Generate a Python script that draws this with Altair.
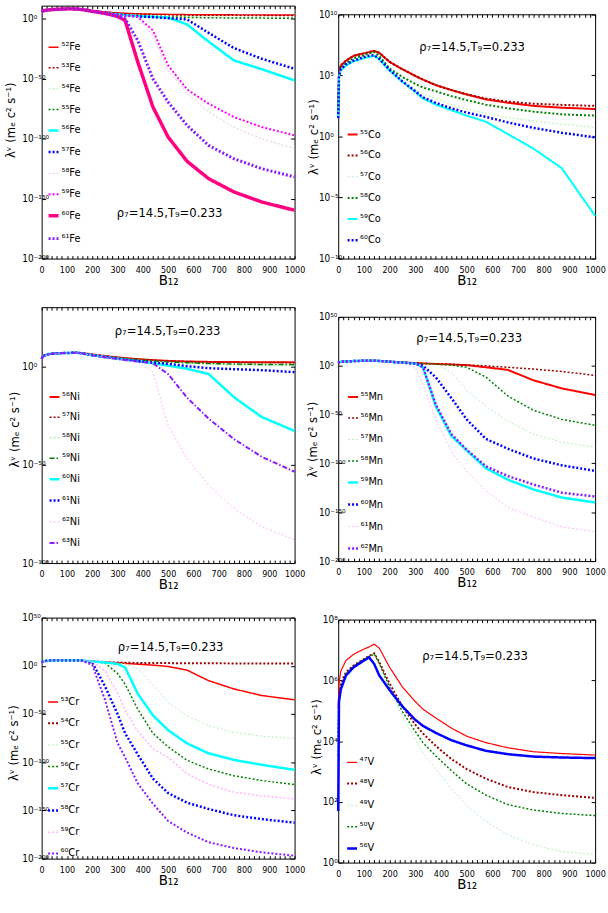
import altair as alt
import pandas as pd

# ---------------- data (log10 of lambda^nu) ----------------
B12 = [0, 3, 10, 30, 60, 100, 120, 140, 160, 200, 250, 300, 330, 380, 440, 500, 575, 660, 760, 870, 1000]

FE_NAMES = ["52Fe", "53Fe", "54Fe", "55Fe", "56Fe", "57Fe", "58Fe", "59Fe", "60Fe", "61Fe"]
FE_52 = [6.1, 6.4, 6.9, 7.5, 8.0, 8.3, 8.3, 8.3, 7.9, 6.9, 5.8, 4.9, 4.6, 4.2, 3.9, 3.7, 3.5, 3.4, 3.3, 3.3, 3.2]
FE_53 = [6.1, 6.4, 6.9, 7.5, 8.0, 8.3, 8.3, 8.3, 7.9, 6.8, 5.6, 4.6, 4.3, 3.8, 3.5, 3.3, 3.1, 3.0, 2.9, 2.8, 2.7]
FE_54 = [6.0, 6.3, 6.8, 7.4, 7.9, 8.2, 8.2, 8.2, 7.8, 6.6, 5.3, 4.1, 3.6, 3.0, 2.5, 2.1, 1.8, 1.5, 1.3, 1.2, 1.0]
FE_55 = [6.0, 6.3, 6.8, 7.4, 7.9, 8.2, 8.2, 8.2, 7.8, 6.6, 5.2, 3.9, 3.4, 2.7, 2.1, 1.6, 1.2, 0.9, 0.7, 0.6, 0.5]
FE_56 = [6.1, 6.4, 6.9, 7.5, 8.0, 8.3, 8.3, 8.2, 7.8, 6.5, 5.0, 3.5, 3.0, 2.2, 1.7, 1.1, -4.7, -19.0, -34.7, -42.0, -51.4]
FE_57 = [6.1, 6.4, 6.9, 7.5, 8.0, 8.3, 8.3, 8.2, 7.8, 6.5, 5.0, 3.4, 2.8, 2.0, 1.4, 0.5, -0.5, -11.7, -24.4, -33.3, -41.7]
FE_58 = [6.0, 6.3, 6.8, 7.4, 7.9, 8.2, 8.2, 8.2, 7.7, 6.4, 4.8, 3.2, 2.6, 1.6, -13.9, -43.0, -62.5, -77.8, -90.3, -100.0, -108.3]
FE_59 = [6.0, 6.3, 6.8, 7.4, 7.9, 8.2, 8.2, 8.2, 7.7, 6.4, 4.8, 3.2, 2.6, 1.7, -9.7, -38.9, -58.9, -70.8, -81.9, -90.3, -97.2]
FE_60 = [6.1, 6.4, 6.9, 7.5, 8.0, 8.3, 8.3, 8.2, 7.7, 6.3, 4.6, 2.0, -1.4, -36.0, -73.6, -98.6, -118.9, -133.3, -144.4, -152.8, -159.7]
FE_61 = [6.1, 6.4, 6.9, 7.5, 8.0, 8.3, 8.3, 8.2, 7.7, 6.3, 4.6, 2.2, 0.0, -18.0, -50.0, -69.4, -88.9, -105.6, -116.7, -125.0, -131.9]

CO_NAMES = ["55Co", "56Co", "57Co", "58Co", "59Co", "60Co"]
CO_55 = [2.0, 5.2, 5.8, 6.2, 6.6, 6.8, 6.9, 7.0, 6.84, 6.1, 5.5, 4.95, 4.65, 4.2, 3.8, 3.43, 3.03, 2.76, 2.5, 2.35, 2.24]
CO_56 = [2.0, 5.2, 5.8, 6.2, 6.6, 6.8, 6.9, 7.0, 6.84, 6.1, 5.5, 4.95, 4.65, 4.2, 3.8, 3.45, 3.1, 2.85, 2.68, 2.58, 2.5]
CO_57 = [1.8, 5.0, 5.6, 6.0, 6.4, 6.65, 6.75, 6.85, 6.5, 5.3, 4.45, 3.85, 3.5, 3.1, 2.6, 2.25, 1.9, 1.55, 1.27, 1.0, 0.73]
CO_58 = [1.8, 5.0, 5.6, 6.0, 6.4, 6.65, 6.8, 6.9, 6.6, 5.55, 4.86, 4.3, 4.0, 3.7, 3.3, 2.97, 2.6, 2.3, 2.03, 1.81, 1.7]
CO_59 = [1.5, 4.9, 5.4, 5.8, 6.15, 6.4, 6.5, 6.6, 6.3, 5.4, 4.46, 3.65, 3.1, 2.6, 2.15, 1.7, 1.2, 0.2, -1.0, -2.6, -6.5]
CO_60 = [1.5, 4.9, 5.5, 5.9, 6.2, 6.5, 6.6, 6.65, 6.35, 5.45, 4.5, 3.7, 3.2, 2.75, 2.3, 1.95, 1.6, 1.15, 0.7, 0.3, -0.08]

NI_NAMES = ["56Ni", "57Ni", "58Ni", "59Ni", "60Ni", "61Ni", "62Ni", "63Ni"]
NI_56 = [3.7, 4.5, 5.4, 6.2, 6.6, 6.7, 6.8, 6.9, 6.7, 6.0, 5.2, 4.5, 4.1, 3.6, 3.1, 2.7, 2.4, 2.2, 2.1, 2.0, 2.0]
NI_57 = [3.7, 4.5, 5.4, 6.2, 6.6, 6.7, 6.8, 6.9, 6.7, 6.0, 5.2, 4.5, 4.1, 3.6, 3.1, 2.6, 2.3, 2.1, 2.0, 1.9, 1.8]
NI_58 = [3.7, 4.5, 5.4, 6.2, 6.6, 6.7, 6.8, 6.9, 6.6, 5.8, 5.0, 4.2, 3.8, 3.1, 2.4, 1.9, 1.4, 1.0, 0.7, 0.5, 0.3]
NI_59 = [3.7, 4.5, 5.4, 6.2, 6.6, 6.7, 6.8, 6.9, 6.6, 5.8, 5.0, 4.3, 3.9, 3.3, 2.7, 2.2, 1.8, 1.4, 1.1, 0.9, 0.8]
NI_60 = [3.7, 4.5, 5.4, 6.2, 6.6, 6.7, 6.8, 6.8, 6.5, 5.6, 4.7, 3.8, 3.3, 2.5, 1.5, 0.3, -1.3, -3.9, -15.7, -25.8, -32.9]
NI_61 = [3.7, 4.5, 5.4, 6.2, 6.6, 6.7, 6.8, 6.8, 6.5, 5.6, 4.7, 3.8, 3.3, 2.6, 1.9, 1.2, 0.0, -1.0, -1.5, -2.0, -3.0]
NI_62 = [3.7, 4.5, 5.4, 6.2, 6.6, 6.7, 6.8, 6.8, 6.5, 5.5, 4.5, 3.5, 2.9, 1.8, -3.0, -30.0, -46.9, -60.4, -72.2, -81.5, -88.2]
NI_63 = [3.7, 4.5, 5.4, 6.2, 6.6, 6.7, 6.8, 6.8, 6.5, 5.5, 4.6, 3.7, 3.2, 2.4, 1.5, -4.0, -16.0, -26.6, -37.0, -46.0, -53.6]

MN_NAMES = ["55Mn", "56Mn", "57Mn", "58Mn", "59Mn", "60Mn", "61Mn", "62Mn"]
MN_55 = [2.7, 3.3, 4.0, 4.3, 4.7, 5.0, 5.0, 5.0, 4.8, 4.2, 3.4, 2.7, 2.3, 1.7, 1.2, 0.5, -1.7, -4.3, -15.0, -23.3, -30.0]
MN_56 = [2.7, 3.3, 4.0, 4.3, 4.7, 5.0, 5.0, 5.0, 4.8, 4.2, 3.4, 2.7, 2.3, 1.8, 1.3, 0.7, -0.2, -1.7, -3.5, -6.0, -10.0]
MN_57 = [2.7, 3.3, 4.0, 4.3, 4.7, 5.0, 5.0, 5.0, 4.8, 4.1, 3.2, 2.4, 2.0, 1.2, -6.7, -25.0, -41.7, -56.7, -70.0, -78.3, -83.3]
MN_58 = [2.7, 3.3, 4.0, 4.3, 4.7, 5.0, 5.0, 5.0, 4.8, 4.1, 3.2, 2.4, 2.0, 1.5, 0.5, -1.7, -11.7, -31.0, -45.7, -55.0, -61.0]
MN_59 = [2.7, 3.3, 4.0, 4.3, 4.7, 5.0, 5.0, 5.0, 4.8, 4.0, 3.0, 2.2, -1.7, -41.7, -71.7, -86.7, -105.0, -116.7, -126.7, -135.0, -140.0]
MN_60 = [2.7, 3.3, 4.0, 4.3, 4.7, 5.0, 5.0, 5.0, 4.8, 4.0, 3.0, 2.2, 0.0, -12.0, -33.0, -55.0, -75.0, -85.0, -95.0, -102.0, -107.7]
MN_61 = [2.7, 3.3, 4.0, 4.3, 4.7, 5.0, 5.0, 5.0, 4.8, 3.8, 2.5, -1.7, -20.0, -55.0, -88.0, -108.0, -128.0, -145.0, -155.0, -165.0, -170.0]
MN_62 = [2.7, 3.3, 4.0, 4.3, 4.7, 5.0, 5.0, 5.0, 4.8, 4.0, 3.0, 2.2, -1.7, -40.0, -70.0, -86.0, -103.0, -113.0, -121.7, -130.0, -134.0]

CR_NAMES = ["53Cr", "54Cr", "55Cr", "56Cr", "57Cr", "58Cr", "59Cr", "60Cr"]
CR_53 = [3.4, 4.0, 4.8, 5.5, 5.8, 5.8, 5.8, 5.8, 5.5, 4.6, 3.8, 3.0, 2.5, 1.7, 0.7, -0.7, -4.5, -15.4, -24.0, -30.8, -35.3]
CR_54 = [3.4, 4.0, 4.8, 5.5, 5.8, 5.8, 5.8, 5.8, 5.5, 4.7, 4.0, 3.4, 3.2, 3.0, 2.9, 2.8, 2.7, 2.6, 2.5, 2.5, 2.4]
CR_55 = [3.4, 4.0, 4.8, 5.5, 5.8, 5.8, 5.8, 5.8, 5.5, 4.6, 3.7, 2.7, 2.0, -3.0, -20.0, -38.0, -52.0, -62.0, -69.0, -73.0, -75.3]
CR_56 = [3.4, 4.0, 4.8, 5.5, 5.8, 5.8, 5.8, 5.8, 5.5, 4.4, 3.0, -8.0, -19.0, -45.0, -70.0, -84.0, -98.0, -107.0, -114.0, -119.0, -123.3]
CR_57 = [3.4, 4.0, 4.8, 5.5, 5.8, 5.8, 5.8, 5.8, 5.5, 4.5, 3.5, 2.0, -1.7, -29.0, -51.4, -66.8, -80.5, -90.8, -97.6, -102.7, -107.9]
CR_58 = [3.4, 4.0, 4.8, 5.5, 5.8, 5.8, 5.8, 5.8, 5.5, 3.5, -21.0, -50.0, -70.0, -92.0, -117.0, -132.0, -142.0, -148.5, -155.0, -159.0, -162.7]
CR_59 = [3.4, 4.0, 4.8, 5.5, 5.8, 5.8, 5.8, 5.8, 5.5, 4.2, -5.0, -28.0, -46.0, -68.0, -86.0, -95.0, -112.0, -123.0, -131.0, -135.0, -138.0]
CR_60 = [3.4, 4.0, 4.8, 5.5, 5.8, 5.8, 5.8, 5.8, 5.3, 1.0, -35.0, -80.0, -95.0, -122.0, -143.0, -161.0, -173.0, -183.0, -189.0, -193.5, -197.0]

V_NAMES = ["47V", "48V", "49V", "50V", "56V"]
V_47 = [5.1, 5.9, 6.3, 6.65, 6.86, 7.03, 7.1, 7.19, 7.06, 6.43, 5.78, 5.3, 5.05, 4.76, 4.43, 4.16, 3.95, 3.78, 3.65, 3.59, 3.54]
V_48 = [4.0, 5.5, 5.9, 6.27, 6.49, 6.7, 6.8, 6.89, 6.6, 5.89, 5.14, 4.54, 4.25, 3.84, 3.41, 3.08, 2.76, 2.49, 2.32, 2.22, 2.13]
V_49 = [3.5, 5.4, 5.8, 6.2, 6.45, 6.68, 6.76, 6.85, 6.5, 5.68, 4.81, 4.05, 3.6, 3.08, 2.43, 1.89, 1.35, 0.92, 0.59, 0.36, 0.27]
V_50 = [3.5, 5.4, 5.8, 6.22, 6.47, 6.69, 6.78, 6.87, 6.55, 5.78, 4.97, 4.32, 3.95, 3.51, 3.03, 2.59, 2.22, 1.91, 1.73, 1.62, 1.55]
V_56 = [1.7, 5.3, 5.7, 6.16, 6.43, 6.65, 6.76, 6.54, 6.16, 5.68, 5.14, 4.7, 4.5, 4.27, 4.03, 3.86, 3.68, 3.57, 3.49, 3.46, 3.44]

# tick exponents per panel
FE_YEXP = [0, -50, -100, -150, -200]
CO_YEXP = [10, 5, 0, -5, -10]
NI_YEXP = [0, -50, -100]
MN_YEXP = [50, 0, -50, -100, -150, -200]
CR_YEXP = [50, 0, -50, -100, -150, -200]
V_YEXP = [8, 6, 4, 2, 0]
X_TICKS = list(range(0, 1001, 20))

NOTE = "ρ₇=14.5,T₉=0.233"
XTITLE = "B₁₂"
YTITLE = "λᵛ (mₑ c² s⁻¹)"

# ---------------- styles ----------------
RED, BROWN, LGREEN, GREEN = "#ff0000", "#990000", "#b5f0b5", "#008000"
CYAN, BLUE, MAGENTA, CRIMSON = "#00ffff", "#0000ff", "#ff00ff", "#ff0080"
PURPLE, LPINK, LPINK2 = "#8a1aff", "#ffb5ff", "#e6c6d4"
SOLID, DOT, DASHDOT = [1, 0], [2, 2], [5, 2, 1.5, 2]

FE_STY = [(RED, SOLID, 1.5), (BROWN, DOT, 1.5), (LGREEN, DOT, 1.0), (GREEN, DOT, 1.5),
          (CYAN, SOLID, 2.5), (BLUE, DOT, 2.5), (LPINK2, DOT, 1.0), (MAGENTA, DOT, 2.0),
          (CRIMSON, SOLID, 3.5), (PURPLE, DOT, 3.0)]
CO_STY = [(RED, SOLID, 2.0), (BROWN, DOT, 2.0), (LGREEN, DOT, 1.0), (GREEN, DOT, 2.0),
          (CYAN, SOLID, 2.0), (BLUE, DOT, 2.5)]
NI_STY = [(RED, SOLID, 2.0), (BROWN, DOT, 1.5), (LGREEN, DOT, 1.5), (GREEN, DASHDOT, 1.5),
          (CYAN, SOLID, 2.5), (BLUE, DOT, 2.5), (LPINK, DOT, 1.0), (PURPLE, DASHDOT, 2.0)]
MN_STY = [(RED, SOLID, 2.0), (BROWN, DOT, 1.5), (LGREEN, DOT, 1.0), (GREEN, DOT, 1.5),
          (CYAN, SOLID, 2.5), (BLUE, DOT, 2.5), (LPINK, DOT, 1.0), (PURPLE, DOT, 2.5)]
CR_STY = [(RED, SOLID, 1.5), (BROWN, DOT, 2.0), (LGREEN, DOT, 1.0), (GREEN, DOT, 1.5),
          (CYAN, SOLID, 2.5), (BLUE, DOT, 2.5), (LPINK, DOT, 1.5), (PURPLE, DOT, 2.0)]
V_STY = [(RED, SOLID, 1.2), (BROWN, DOT, 2.0), (LGREEN, DOT, 1.0), (GREEN, DOT, 1.5),
         (BLUE, SOLID, 2.5)]

NARROW = "Liberation Sans Narrow, DejaVu Sans Condensed, Liberation Sans, sans-serif"
SUP = str.maketrans("0123456789-", "⁰¹²³⁴⁵⁶⁷⁸⁹⁻")


def iso_label(name):
    digits = "".join(c for c in name if c.isdigit())
    sym = "".join(c for c in name if not c.isdigit())
    return digits.translate(SUP) + sym


def ylabel_expr(exps):
    expr = "''"
    for e in exps:
        expr = f"abs(log(datum.value)/LN10 - ({e})) < 0.5 ? '10{str(e).translate(SUP)}' : " + expr
    return expr


def panel(names, series, styles, ydom, yexps, w, h, top, leg, note_xy, title_xy, lab_pad=24):
    labels = [iso_label(n) for n in names]
    rows = []
    for lab, vals in zip(labels, series):
        for b, v in zip(B12, vals):
            rows.append({"B": b, "lam": 10.0 ** v, "iso": lab})
    df = pd.DataFrame(rows)
    yvals = [10.0 ** e for e in yexps]
    xs = alt.Scale(domain=[0, 1000], nice=False, zero=False)
    ys = alt.Scale(type="log", domain=ydom, nice=False, range=[h, top])
    dom = dict(domain=True, domainColor="black", domainWidth=1)
    legend = alt.Legend(title=None, orient="none", legendX=leg[0], legendY=leg[1],
                        symbolType="stroke", symbolSize=100, labelFont=NARROW,
                        labelFontSize=11, rowPadding=leg[2], labelOffset=1, padding=0)
    xaxis = alt.Axis(orient="bottom", values=X_TICKS, format="d",
                     labelExpr="datum.value % 100 == 0 ? datum.label : ''",
                     tickSize=alt.ExprRef(expr="-3"), labelPadding=10, labelFont=NARROW,
                     labelFontSize=9, labelFlush=False, labelOverlap=False,
                     title=XTITLE, titleFont=NARROW, titleFontSize=15,
                     titleFontWeight="normal", titleY=14, titleBaseline="top", **dom)
    yaxis = alt.Axis(orient="left", values=yvals, labelExpr=ylabel_expr(yexps),
                     tickSize=alt.ExprRef(expr="-4"), labelAlign="left", labelPadding=lab_pad,
                     labelFont=NARROW, labelFontSize=10, labelOverlap=False, labelFlush=False,
                     title=YTITLE, titleFont=NARROW, titleFontSize=13, titleFontWeight="normal",
                     titleAngle=270, titleX=title_xy[0], titleY=title_xy[1], titleBaseline="top",
                     **dom)
    lines = alt.Chart(df).mark_line(strokeCap="butt").encode(
        x=alt.X("B:Q", scale=xs, axis=xaxis),
        y=alt.Y("lam:Q", scale=ys, axis=yaxis),
        color=alt.Color("iso:N", scale=alt.Scale(domain=labels, range=[s[0] for s in styles]),
                        legend=legend, sort=labels),
        strokeDash=alt.StrokeDash("iso:N", scale=alt.Scale(domain=labels, range=[s[1] for s in styles]),
                                  legend=legend, sort=labels),
        strokeWidth=alt.StrokeWidth("iso:N", scale=alt.Scale(type="ordinal", domain=labels,
                                                             range=[s[2] for s in styles]),
                                    legend=legend, sort=labels),
    )
    frame = alt.Chart(df).mark_point(opacity=0).encode(
        x=alt.X("B:Q", scale=xs, axis=alt.Axis(orient="top", values=X_TICKS, labels=False,
                                               tickSize=alt.ExprRef(expr="-3"), title=None,
                                               offset=-top, **dom)),
        y=alt.Y("lam:Q", scale=ys, axis=alt.Axis(orient="right", values=yvals, labels=False,
                                                 tickSize=alt.ExprRef(expr="-4"), title=None,
                                                 **dom)),
    )
    note = alt.Chart(pd.DataFrame({"t": [NOTE]})).mark_text(
        font=NARROW, fontSize=13, align="center", baseline="middle", color="black"
    ).encode(text="t:N", x=alt.value(note_xy[0]), y=alt.value(note_xy[1]))
    return alt.layer(lines, frame, note).resolve_axis(
        x="independent", y="independent").properties(
        width=w, height=h, view=alt.ViewBackground(stroke=None))


fe = panel(FE_NAMES, [FE_52, FE_53, FE_54, FE_55, FE_56, FE_57, FE_58, FE_59, FE_60, FE_61],
           FE_STY, [1e-200, 1e11], FE_YEXP, 255, 255, 0, (5, 36, 9.6), (129, 209), (-37, 115))
co = panel(CO_NAMES, [CO_55, CO_56, CO_57, CO_58, CO_59, CO_60],
           CO_STY, [1e-10, 1e10], CO_YEXP, 259, 255, 8.7, (8, 124, 10.0), (135, 42), (-31, 132))
ni = panel(NI_NAMES, [NI_56, NI_57, NI_58, NI_59, NI_60, NI_61, NI_62, NI_63],
           NI_STY, [1e-100, 1e30], NI_YEXP, 255, 255, -3, (6.5, 81.5, 9.6), (127, 21), (-33, 120))
mn = panel(MN_NAMES, [MN_55, MN_56, MN_57, MN_58, MN_59, MN_60, MN_61, MN_62],
           MN_STY, [1e-200, 1e50], MN_YEXP, 259, 253, 6.7, (8.5, 81.5, 10.2), (132, 28), (-32, 130))
cr = panel(CR_NAMES, [CR_53, CR_54, CR_55, CR_56, CR_57, CR_58, CR_59, CR_60],
           CR_STY, [1e-200, 1e50], CR_YEXP, 255, 246, 3, (5, 82, 10.4), (130, 33), (-34, 129))
vv = panel(V_NAMES, [V_47, V_48, V_49, V_50, V_56],
           V_STY, [1, 1e8], V_YEXP, 259, 250, 5, (7.5, 143, 10.3), (138, 42), (-28, 123), 20)

IND = dict(x="independent", y="independent", color="independent",
           strokeDash="independent", strokeWidth="independent")
LIND = dict(color="independent", strokeDash="independent", strokeWidth="independent")

chart = alt.concat(fe, co, ni, mn, cr, vv, columns=2, spacing={"row": 52, "column": 44},
                   bounds="flush", align="each").resolve_scale(**IND).resolve_legend(**LIND)

chart = chart.properties(
    padding={"left": 5, "top": -2, "right": 2, "bottom": 2},
    background="white",
).configure_view(stroke=None).configure_axis(
    grid=False, labelColor="black", tickColor="black", titleColor="black"
).configure_legend(labelColor="black")

chart.save("out.html", embed_options={"renderer": "svg", "actions": False})
